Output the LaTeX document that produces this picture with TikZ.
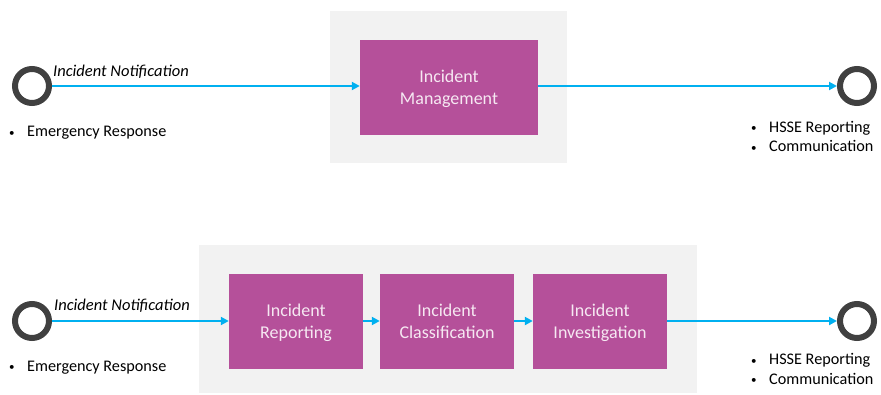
\documentclass[tikz,border=0pt]{standalone}
\usepackage{fontspec}
\setmainfont{Carlito}
\usetikzlibrary{arrows.meta}
\definecolor{flowblue}{HTML}{00B0F0}
\definecolor{procpurple}{HTML}{B5509A}
\definecolor{lanegray}{HTML}{F2F2F2}
\definecolor{ringgray}{HTML}{404040}
\definecolor{proctext}{HTML}{F6E8F2}
\newcommand{\itemdot}{\makebox[18pt][l]{\raisebox{0.5pt}{\fontsize{11}{11}\selectfont•}}}
% line strut for the process boxes, so every label sits at the same height
\newcommand{\pstrut}{\rule[-4pt]{0pt}{19pt}}
\begin{document}
\begin{tikzpicture}[x=1pt,y=-1pt,
  lane/.style={fill=lanegray, draw=none},
  proc/.style={fill=procpurple, draw=none, text=proctext, align=center,
    font=\fontsize{18}{22}\selectfont, inner sep=0pt,
    minimum height=95pt},
  ring/.style={circle, draw=ringgray, line width=6pt, minimum size=34pt, inner sep=0pt},
  flow/.style={draw=flowblue, line width=2.8pt, -{Triangle[length=8pt,width=8pt]}},
  evlabel/.style={font=\fontsize{16.5}{20}\selectfont\itshape, anchor=west, inner sep=0pt},
  bullets/.style={font=\fontsize{16.2}{19.5}\selectfont, align=left, anchor=west, inner sep=0pt}
]
\useasboundingbox (0,0) rectangle (881,394);

% ---- upper flow: single process ----
\fill[lane] (330,11) rectangle (567,163);
\node[proc, minimum width=178pt] (mgmt) at (449,87.5) {\pstrut Incident\\\pstrut Management};
\node[ring] (s1) at (32,86) {};
\node[ring] (e1) at (857,86) {};
\draw[flow] (s1.east) -- (mgmt.west |- s1.east);
\draw[flow] (mgmt.east |- e1.west) -- (e1.west);
\node[evlabel] (n1) at (53,71.5) {Incident Notification};
\node[bullets] (b1) at (9,133) {\itemdot Emergency Response};
\node[bullets] (o1) at (751,136.5) {\itemdot HSSE Reporting\\\itemdot Communication};

% ---- lower flow: three process steps ----
\fill[lane] (199,245) rectangle (697,393);
\node[proc, minimum width=134pt] (rep) at (296,321.5) {\pstrut Incident\\\pstrut Reporting};
\node[proc, minimum width=134pt] (cls) at (447,321.5) {\pstrut Incident\\\pstrut Classification};
\node[proc, minimum width=134pt] (inv) at (600,321.5) {\pstrut Incident\\\pstrut Investigation};
\node[ring] (s2) at (32,321) {};
\node[ring] (e2) at (857,321) {};
\draw[flow] (s2.east) -- (rep.west |- s2.east);
\draw[flow] (rep.east |- s2.east) -- (cls.west |- s2.east);
\draw[flow] (cls.east |- s2.east) -- (inv.west |- s2.east);
\draw[flow] (inv.east |- e2.west) -- (e2.west);
\node[evlabel] (n2) at (54,305.5) {Incident Notification};
\node[bullets] (b2) at (9,367.5) {\itemdot Emergency Response};
\node[bullets] (o2) at (751,369) {\itemdot HSSE Reporting\\\itemdot Communication};
\end{tikzpicture}
\end{document}
